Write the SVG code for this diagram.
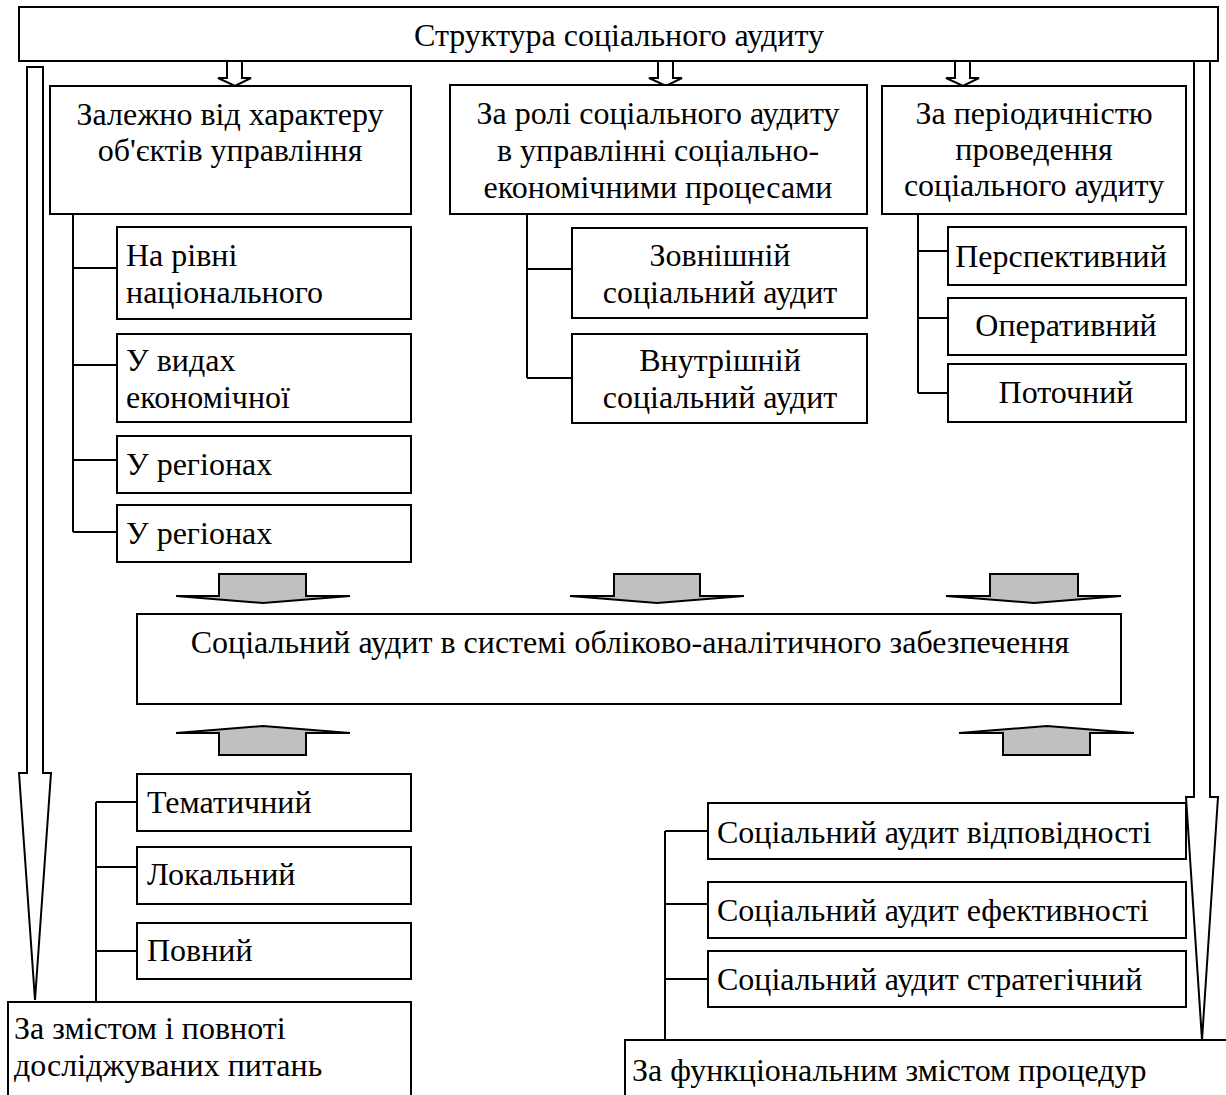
<svg xmlns="http://www.w3.org/2000/svg" width="1226" height="1095" viewBox="0 0 1226 1095">
<style>
.b{fill:#fff;stroke:#000;stroke-width:2}
.t{font-family:"Liberation Serif","Times New Roman",serif;font-size:32px;fill:#000}
.c{text-anchor:middle}
.l{fill:none;stroke:#000;stroke-width:2}
.g{fill:#c0c0c0;stroke:#000;stroke-width:2;stroke-linejoin:miter}
.a{fill:#fff;stroke:#000;stroke-width:2}
</style>
<rect width="1226" height="1095" fill="#fff"/>
<g id="connectors">
<polygon class="a" points="27,67 43,67 43,773 51,773 35,1000 19,773 27,773"/>
<polygon class="a" points="1194,61 1210,61 1210,797 1218,797 1202,1040 1186,797 1194,797"/>
<polygon class="a" points="227,61 242,61 242,78 251,78 235,86 218,78 227,78"/>
<polygon class="a" points="658,61 673,61 673,78 682,78 666,86 649,78 658,78"/>
<polygon class="a" points="955,61 970,61 970,78 979,78 963,86 946,78 955,78"/>
<path class="l" d="M73,214V532M73,268H117M73,365H117M73,460H117M73,532H117"/>
<path class="l" d="M527,214V378M527,269H572M527,378H572"/>
<path class="l" d="M918,214V393M918,251H948M918,318H948M918,393H948"/>
<polygon class="g" points="219,574 306,574 306,596 350,596 263,603 176,596 219,596"/>
<polygon class="g" points="614,574 700,574 700,596 744,596 657,603 570,596 614,596"/>
<polygon class="g" points="990,574 1078,574 1078,596 1121,596 1034,603 946,596 990,596"/>
<polygon class="g" points="219,755 306,755 306,733 350,733 263,726 176,733 219,733"/>
<polygon class="g" points="1003,755 1090,755 1090,733 1134,733 1047,726 959,733 1003,733"/>
<path class="l" d="M96,802V1002M96,802H137M96,867H137M96,951H137"/>
<path class="l" d="M665,831V1040M665,831H708M665,904H708M665,979H708"/>
</g>
<g id="title"><rect class="b" x="19" y="7" width="1199" height="54"/><text class="t c" x="619" y="46">Структура соціального аудиту</text></g>
<g id="n1"><rect class="b" x="50" y="86" width="361" height="128"/><text class="t c" x="230" y="125">Залежно від характеру</text><text class="t c" x="230" y="161">об'єктів управління</text></g>
<g id="n2"><rect class="b" x="450" y="85" width="417" height="129"/><text class="t c" x="658" y="124">За ролі соціального аудиту</text><text class="t c" x="658" y="161">в управлінні соціально-</text><text class="t c" x="658" y="198">економічними процесами</text></g>
<g id="n3"><rect class="b" x="882" y="86" width="304" height="128"/><text class="t c" x="1034" y="124">За періодичністю</text><text class="t c" x="1034" y="160">проведення</text><text class="t c" x="1034" y="196">соціального аудиту</text></g>
<g id="n1a"><rect class="b" x="117" y="227" width="294" height="92"/><text class="t" x="126" y="266">На рівні</text><text class="t" x="126" y="303">національного</text></g>
<g id="n1b"><rect class="b" x="117" y="334" width="294" height="88"/><text class="t" x="126" y="371">У видах</text><text class="t" x="126" y="408">економічної</text></g>
<g id="n1c"><rect class="b" x="117" y="436" width="294" height="57"/><text class="t" x="126" y="475">У регіонах</text></g>
<g id="n1d"><rect class="b" x="117" y="505" width="294" height="57"/><text class="t" x="126" y="544">У регіонах</text></g>
<g id="n2a"><rect class="b" x="572" y="228" width="295" height="90"/><text class="t c" x="720" y="266">Зовнішній</text><text class="t c" x="720" y="303">соціальний аудит</text></g>
<g id="n2b"><rect class="b" x="572" y="334" width="295" height="89"/><text class="t c" x="720" y="371">Внутрішній</text><text class="t c" x="720" y="408">соціальний аудит</text></g>
<g id="n3a"><rect class="b" x="948" y="227" width="238" height="58"/><text class="t c" x="1061" y="267">Перспективний</text></g>
<g id="n3b"><rect class="b" x="948" y="298" width="238" height="57"/><text class="t c" x="1066" y="336">Оперативний</text></g>
<g id="n3c"><rect class="b" x="948" y="364" width="238" height="58"/><text class="t c" x="1066" y="403">Поточний</text></g>
<g id="center"><rect class="b" x="137" y="614" width="984" height="90"/><text class="t c" x="630" y="653">Соціальний аудит в системі обліково-аналітичного забезпечення</text></g>
<g id="n4a"><rect class="b" x="137" y="774" width="274" height="57"/><text class="t" x="147" y="813">Тематичний</text></g>
<g id="n4b"><rect class="b" x="137" y="847" width="274" height="57"/><text class="t" x="147" y="885">Локальний</text></g>
<g id="n4c"><rect class="b" x="137" y="923" width="274" height="56"/><text class="t" x="147" y="961">Повний</text></g>
<g id="n4"><rect class="b" x="8" y="1002" width="403" height="100"/><text class="t" x="14" y="1039">За змістом і повноті</text><text class="t" x="14" y="1076">досліджуваних питань</text></g>
<g id="n5a"><rect class="b" x="708" y="803" width="478" height="56"/><text class="t" x="717" y="843">Соціальний аудит відповідності</text></g>
<g id="n5b"><rect class="b" x="708" y="882" width="478" height="56"/><text class="t" x="717" y="921">Соціальний аудит ефективності</text></g>
<g id="n5c"><rect class="b" x="708" y="951" width="478" height="56"/><text class="t" x="717" y="990">Соціальний аудит стратегічний</text></g>
<g id="n5"><rect class="b" x="625" y="1040" width="610" height="70"/><text class="t" x="632" y="1081">За функціональним змістом процедур</text></g>
</svg>
